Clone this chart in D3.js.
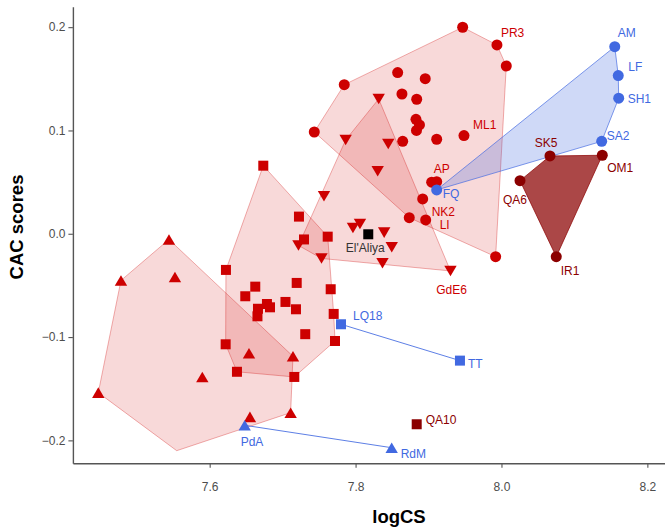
<!DOCTYPE html>
<html>
<head>
<meta charset="utf-8">
<script src="https://cdn.jsdelivr.net/npm/d3@7"></script>
<style>
  body { margin: 0; background: #fff; }
  svg { display: block; font-family: "Liberation Sans", Arial, Helvetica, sans-serif; }
</style>
</head>
<body>
<svg id="chart" width="665" height="529"></svg>
<script>
// ---- Data -------------------------------------------------------------
// Red circles
const circleLogCS = [7.9468, 7.9938, 8.0066, 7.7845, 7.8577, 7.8955, 7.8636, 7.8838, 7.7434, 7.8828, 7.8876,
                     7.8835, 7.8646, 7.9112, 7.9486, 7.9043, 7.9112, 7.8920, 7.8736, 7.8961, 7.9920];
const circleCAC   = [0.1999, 0.1828, 0.1624, 0.1443, 0.1560, 0.1501, 0.1353, 0.1302, 0.0985, 0.1108, 0.1053,
                     0.1000, 0.0895, 0.0915, 0.0950, 0.0499, 0.0504, 0.0337, 0.0156, 0.0134, -0.0222];
const circleNames = ["", "PR3", "", "", "", "", "", "", "", "", "",
                     "", "", "", "ML1", "AP", "", "NK2", "", "LI", ""];

// Red downward triangles
const downLogCS = [7.7864, 7.8448, 7.8303, 7.8317, 7.7567, 7.7964, 7.8060, 7.8392, 7.8496, 7.8369, 7.9301, 7.7533, 7.7217];
const downCAC   = [0.0908, 0.0869, 0.0605, 0.1305, 0.0363, 0.0056, 0.0095, 0.0011, -0.0130, -0.0286, -0.0360, -0.0239, -0.0113];
const downNames = ["", "", "", "", "", "", "", "", "", "", "GdE6", "", ""];

// Red squares
const squareLogCS = [7.6735, 7.7224, 7.7293, 7.7618, 7.6223, 7.7193, 7.6625, 7.6488, 7.6785, 7.6827, 7.6662,
                     7.6655, 7.7039, 7.7183, 7.7659, 7.7700, 7.7310, 7.7718, 7.6219, 7.6374, 7.7160];
const squareCAC   = [0.0659, 0.0166, -0.0055, -0.0028, -0.0350, -0.0476, -0.0512, -0.0605, -0.0680, -0.0712, -0.0726,
                     -0.0799, -0.0660, -0.0731, -0.0537, -0.0776, -0.0972, -0.1038, -0.1070, -0.1336, -0.1386];

// Red upward triangles (plus the extra vertex that closes their hull)
const upLogCS = [7.5442, 7.4784, 7.5524, 7.4473, 7.5899, 7.6539, 7.7142, 7.6552, 7.7110];
const upCAC   = [-0.0055, -0.0452, -0.0418, -0.1538, -0.1386, -0.1157, -0.1186, -0.1773, -0.1732];
const upHullLogCS = [7.5548];
const upHullCAC   = [-0.2100];

// Blue circles
const blueCircleLogCS = [8.1553, 8.1601, 8.1607, 8.1374, 7.9112];
const blueCircleCAC   = [0.1811, 0.1531, 0.1312, 0.0895, 0.0424];
const blueCircleNames = ["AM", "LF", "SH1", "SA2", "FQ"];

// Blue squares (joined)
const blueSquareLogCS = [7.7800, 7.9431];
const blueSquareCAC   = [-0.0876, -0.1228];
const blueSquareNames = ["LQ18", "TT"];

// Blue triangles (joined)
const blueTriLogCS = [7.6480, 7.8495];
const blueTriCAC   = [-0.1854, -0.2071];
const blueTriNames = ["PdA", "RdM"];

// Dark red circles
const darkCircleLogCS = [8.0665, 8.1382, 8.0254, 8.0751];
const darkCircleCAC   = [0.0753, 0.0760, 0.0514, -0.0222];
const darkCircleNames = ["SK5", "OM1", "QA6", "IR1"];

// Dark red square
const darkSquareLogCS = [7.8838];
const darkSquareCAC   = [-0.1844];
const darkSquareNames = ["QA10"];

// Reference point
const refLogCS = [7.8174];
const refCAC   = [-0.0005];
const refNames = ["El'Aliya"];

// Axis ticks
const xTicks = [7.6, 7.8, 8.0, 8.2];
const yTicks = [-0.2, -0.1, 0.0, 0.1, 0.2];

// ---- Styling / layout ------------------------------------------------
const RED = "#cd0000", DARK = "#8b0000", BLUE = "#4169e1";

// label placement relative to each mark: [dx, dy, anchor]
const labelPos = {
  "PR3": [4, -8, "start"], "ML1": [9, -7, "start"], "AP": [2, -9, "start"],
  "NK2": [9, 17, "start"], "LI": [14, 9.5, "start"], "GdE6": [1, 23, "middle"],
  "El'Aliya": [-3, 18, "middle"],
  "SK5": [-4, -9, "middle"], "OM1": [5, 17, "start"], "QA6": [-5, 23, "middle"], "IR1": [4.5, 18, "start"],
  "AM": [3, -10, "start"], "LF": [10, -5, "start"], "SH1": [9, 5, "start"], "SA2": [5, -1, "start"],
  "FQ": [6, 8.5, "start"], "LQ18": [12, -4, "start"], "TT": [8, 7.5, "start"],
  "PdA": [-4, 21, "start"], "RdM": [9, 10.5, "start"], "QA10": [9, 0, "start"]
};

const svg = d3.select("#chart");

const x = d3.scaleLinear().domain([7.4125, 8.225]).range([72.9, 665.6]);
const y = d3.scaleLinear().domain([-0.2221, 0.2198]).range([463.2, 6.7]);

const zip = (xs, ys, names) => xs.map((v, i) => ({ x: v, y: ys[i], name: names ? names[i] : "" }));

const circles   = zip(circleLogCS, circleCAC, circleNames);
const downs     = zip(downLogCS, downCAC, downNames);
const squares   = zip(squareLogCS, squareCAC);
const ups       = zip(upLogCS, upCAC);
const upExtra   = zip(upHullLogCS, upHullCAC);
const blueCirc  = zip(blueCircleLogCS, blueCircleCAC, blueCircleNames);
const blueSq    = zip(blueSquareLogCS, blueSquareCAC, blueSquareNames);
const blueTri   = zip(blueTriLogCS, blueTriCAC, blueTriNames);
const darkCirc  = zip(darkCircleLogCS, darkCircleCAC, darkCircleNames);
const darkSq    = zip(darkSquareLogCS, darkSquareCAC, darkSquareNames);
const refPts    = zip(refLogCS, refCAC, refNames);

// ---- Convex hulls ----------------------------------------------------
function hull(pts, fill, fillOpacity, stroke, strokeOpacity) {
  const h = d3.polygonHull(pts.map(p => [x(p.x), y(p.y)]));
  svg.append("path")
    .attr("d", "M" + h.join("L") + "Z")
    .attr("fill", fill).attr("fill-opacity", fillOpacity)
    .attr("stroke", stroke).attr("stroke-opacity", strokeOpacity)
    .attr("stroke-width", 0.9).attr("stroke-linejoin", "round");
}
hull(circles, RED, 0.15, RED, 0.35);
hull(downs, RED, 0.15, RED, 0.35);
hull(squares, RED, 0.15, RED, 0.35);
hull(ups.concat(upExtra), RED, 0.15, RED, 0.35);
hull(blueCirc, BLUE, 0.25, BLUE, 0.75);
hull(darkCirc, DARK, 0.72, DARK, 0.8);

// ---- Connecting lines --------------------------------------------------
const line = d3.line().x(d => x(d.x)).y(d => y(d.y));
[blueSq, blueTri].forEach(pair => {
  svg.append("path").attr("d", line(pair))
    .attr("fill", "none").attr("stroke", BLUE).attr("stroke-opacity", 0.85).attr("stroke-width", 1);
});

// ---- Axes --------------------------------------------------------------
const axisColor = "#555";
const yAxis = svg.append("g").attr("transform", "translate(72.9,0)")
  .call(d3.axisLeft(y).tickValues(yTicks).tickFormat(d3.format(".1f")).tickSize(4.5).tickSizeOuter(0).tickPadding(3));
const xAxis = svg.append("g").attr("transform", "translate(0,463.2)")
  .call(d3.axisBottom(x).tickValues(xTicks).tickFormat(d3.format(".1f")).tickSize(4.5).tickSizeOuter(0).tickPadding(15));
[xAxis, yAxis].forEach(g => {
  g.select(".domain").attr("stroke", axisColor).attr("stroke-width", 1.4);
  g.selectAll(".tick line").attr("stroke", axisColor).attr("stroke-width", 1.1);
  g.selectAll(".tick text").attr("fill", "#4d4d4d").attr("font-size", 12)
    .attr("font-family", "'Liberation Sans', Arial, sans-serif");
});

svg.append("text").attr("x", 399).attr("y", 523).attr("text-anchor", "middle")
  .attr("font-size", 18.5).attr("font-weight", "bold").attr("fill", "#000").text("logCS");
svg.append("text").attr("transform", "translate(23,227) rotate(-90)").attr("text-anchor", "middle")
  .attr("font-size", 18.5).attr("font-weight", "bold").attr("fill", "#000").text("CAC scores");

// ---- Markers ------------------------------------------------------------
const R = 5.5;
function drawCircles(pts, color) {
  svg.append("g").selectAll("circle").data(pts).join("circle")
    .attr("cx", d => x(d.x)).attr("cy", d => y(d.y)).attr("r", R).attr("fill", color);
}
function drawSquares(pts, color, s) {
  svg.append("g").selectAll("rect").data(pts).join("rect")
    .attr("x", d => x(d.x) - s / 2).attr("y", d => y(d.y) - s / 2)
    .attr("width", s).attr("height", s).attr("fill", color);
}
function drawTriangles(pts, color, down) {
  const w = 6.2, h = 5.3;
  const p = down ? `M${-w},${-h}L${w},${-h}L0,${h}Z` : `M0,${-h}L${w},${h}L${-w},${h}Z`;
  svg.append("g").selectAll("path").data(pts).join("path")
    .attr("transform", d => `translate(${x(d.x)},${y(d.y)})`).attr("d", p).attr("fill", color);
}
drawTriangles(ups, RED, false);
drawSquares(squares, RED, 10);
drawTriangles(downs, RED, true);
drawCircles(circles, RED);
drawCircles(darkCirc, DARK);
drawSquares(darkSq, DARK, 10);
drawCircles(blueCirc, BLUE);
drawSquares(blueSq, BLUE, 10);
drawTriangles(blueTri, BLUE, false);
drawSquares(refPts, "#000", 10);

// ---- Labels ---------------------------------------------------------------
function drawLabels(pts, color) {
  pts.filter(d => d.name).forEach(d => {
    const [dx, dy, anchor] = labelPos[d.name];
    svg.append("text").attr("x", x(d.x) + dx).attr("y", y(d.y) + dy)
      .attr("text-anchor", anchor).attr("font-size", 12).attr("fill", color).text(d.name);
  });
}
drawLabels(circles, RED);
drawLabels(downs, RED);
drawLabels(darkCirc, DARK);
drawLabels(darkSq, DARK);
drawLabels(blueCirc, BLUE);
drawLabels(blueSq, BLUE);
drawLabels(blueTri, BLUE);
drawLabels(refPts, "#333");
</script>
</body>
</html>
